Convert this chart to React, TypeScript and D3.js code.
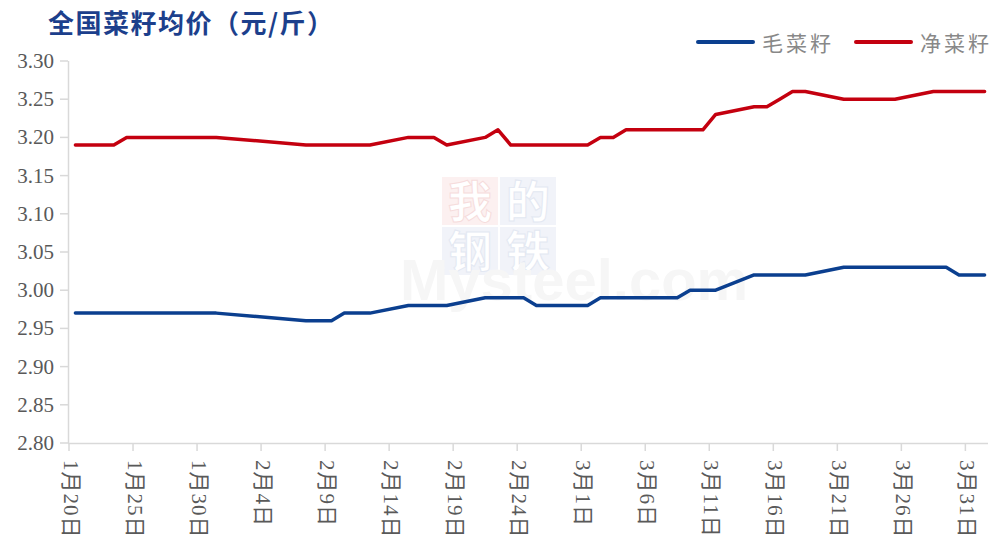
import React, { useEffect, useRef } from 'react';
import * as d3 from 'd3';

// trading dates (2022), shared by both series
const dates = [
  '2022-01-20', '2022-01-21', '2022-01-22', '2022-01-23', '2022-01-24', '2022-01-25',
  '2022-01-26', '2022-01-27', '2022-01-28', '2022-01-29', '2022-01-30', '2022-01-31',
  '2022-02-07', '2022-02-08', '2022-02-09', '2022-02-10', '2022-02-11', '2022-02-12',
  '2022-02-15', '2022-02-16', '2022-02-17', '2022-02-18',
  '2022-02-21', '2022-02-22', '2022-02-23', '2022-02-24', '2022-02-25', '2022-02-26',
  '2022-02-27', '2022-02-28', '2022-03-01', '2022-03-02', '2022-03-03', '2022-03-04',
  '2022-03-05', '2022-03-06', '2022-03-07', '2022-03-08', '2022-03-09', '2022-03-10',
  '2022-03-11', '2022-03-14', '2022-03-15', '2022-03-16', '2022-03-17', '2022-03-18',
  '2022-03-21', '2022-03-22', '2022-03-23', '2022-03-24', '2022-03-25',
  '2022-03-28', '2022-03-29', '2022-03-30', '2022-03-31', '2022-04-01',
];

// 毛菜籽
const rawSeed = [
  2.97, 2.97, 2.97, 2.97, 2.97, 2.97, 2.97, 2.97, 2.97, 2.97, 2.97, 2.97,
  2.96, 2.96, 2.96, 2.97, 2.97, 2.97,
  2.98, 2.98, 2.98, 2.98,
  2.99, 2.99, 2.99, 2.99, 2.98, 2.98, 2.98, 2.98, 2.98, 2.99, 2.99, 2.99,
  2.99, 2.99, 2.99, 2.99, 3.00, 3.00, 3.00,
  3.02, 3.02, 3.02, 3.02, 3.02,
  3.03, 3.03, 3.03, 3.03, 3.03,
  3.03, 3.03, 3.02, 3.02, 3.02,
];

// 净菜籽
const cleanSeed = [
  3.19, 3.19, 3.19, 3.19, 3.20, 3.20, 3.20, 3.20, 3.20, 3.20, 3.20, 3.20,
  3.19, 3.19, 3.19, 3.19, 3.19, 3.19,
  3.20, 3.20, 3.20, 3.19,
  3.20, 3.21, 3.19, 3.19, 3.19, 3.19, 3.19, 3.19, 3.19, 3.20, 3.20, 3.21,
  3.21, 3.21, 3.21, 3.21, 3.21, 3.21, 3.23,
  3.24, 3.24, 3.25, 3.26, 3.26,
  3.25, 3.25, 3.25, 3.25, 3.25,
  3.26, 3.26, 3.26, 3.26, 3.26,
];

const tickDates = [
  '2022-01-20', '2022-01-25', '2022-01-30', '2022-02-04', '2022-02-09',
  '2022-02-14', '2022-02-19', '2022-02-24', '2022-03-01', '2022-03-06',
  '2022-03-11', '2022-03-16', '2022-03-21', '2022-03-26', '2022-03-31',
];
const yTicks = [2.8, 2.85, 2.9, 2.95, 3.0, 3.05, 3.1, 3.15, 3.2, 3.25, 3.3];

const seriesNames = ['毛菜籽', '净菜籽'];
const seriesColors = ['#0b3f8f', '#c4000f'];

const W = 992;
const H = 543;
const parse = d3.timeParse('%Y-%m-%d');

export default function App() {
  const svgRef = useRef<SVGSVGElement>(null);

  useEffect(() => {
    const svg = d3.select(svgRef.current);
    svg.selectAll('*').remove();

    const x = d3.scaleTime()
      .domain([parse('2022-01-20') as Date, parse('2022-04-02') as Date])
      .range([69, 991]);
    const y = d3.scaleLinear().domain([2.8, 3.3]).range([443, 61]);
    // points sit in the middle of their day
    const px = (s: string) => x(d3.timeHour.offset(parse(s) as Date, 12));

    // watermark
    const wm = svg.append('g');
    const boxes = [
      { t: '我', bx: 442, by: 177, fill: '#fcf0f0', c: '#f6dcdc' },
      { t: '的', bx: 500, by: 177, fill: '#f1f3f9', c: '#e3e8f2' },
      { t: '钢', bx: 442, by: 227, fill: '#f1f3f9', c: '#e3e8f2' },
      { t: '铁', bx: 500, by: 227, fill: '#f1f3f9', c: '#e3e8f2' },
    ];
    boxes.forEach((b) => {
      wm.append('rect').attr('x', b.bx).attr('y', b.by).attr('width', 56).attr('height', 48).attr('fill', b.fill);
      wm.append('text').attr('x', b.bx + 28).attr('y', b.by + 41)
        .attr('text-anchor', 'middle')
        .style('font-family', '"Noto Sans CJK SC"')
        .style('font-size', '44px').style('font-weight', 700)
        .attr('fill', '#ffffff').attr('stroke', b.c).attr('stroke-width', 1)
        .text(b.t);
    });
    wm.append('text').attr('x', 400).attr('y', 300)
      .style('font-family', 'Arial, "Liberation Sans"')
      .style('font-size', '58px').style('font-weight', 700)
      .attr('fill', '#f6f6f6')
      .text('Mysteel.com');

    // y axis
    svg.append('line').attr('x1', 68.5).attr('x2', 68.5).attr('y1', 61).attr('y2', 443)
      .attr('stroke', '#d9d9d9').attr('stroke-width', 1.5);
    yTicks.forEach((v) => {
      svg.append('line').attr('x1', 60).attr('x2', 68).attr('y1', y(v)).attr('y2', y(v))
        .attr('stroke', '#d9d9d9').attr('stroke-width', 1.5);
      svg.append('text').attr('x', 54).attr('y', y(v))
        .attr('text-anchor', 'end').attr('dominant-baseline', 'central')
        .style('font-family', '"Liberation Serif", "Times New Roman", serif')
        .style('font-size', '21px').attr('fill', '#595959')
        .text(v.toFixed(2));
    });

    // x axis
    svg.append('line').attr('x1', 68).attr('x2', 988).attr('y1', 443.5).attr('y2', 443.5)
      .attr('stroke', '#d9d9d9').attr('stroke-width', 1.5);
    tickDates.forEach((s) => {
      const d = parse(s) as Date;
      const tx = x(d);
      svg.append('line').attr('x1', tx).attr('x2', tx).attr('y1', 443).attr('y2', 451)
        .attr('stroke', '#d9d9d9').attr('stroke-width', 1.5);
      svg.append('text')
        .attr('transform', `translate(${tx + 2},${460}) rotate(90)`)
        .attr('dominant-baseline', 'central')
        .style('font-family', '"Liberation Serif", "Noto Sans CJK SC", serif')
        .style('font-size', '21px').style('letter-spacing', '1px').attr('fill', '#595959')
        .text(`${d.getMonth() + 1}月${d.getDate()}日`);
    });

    // lines
    const line = d3.line<[string, number]>()
      .x((d) => px(d[0]))
      .y((d) => y(d[1]));
    [rawSeed, cleanSeed].forEach((vals, i) => {
      svg.append('path')
        .datum(dates.map((s, j) => [s, vals[j]] as [string, number]))
        .attr('d', line)
        .attr('fill', 'none')
        .attr('stroke', seriesColors[i])
        .attr('stroke-width', 3.5)
        .attr('stroke-linejoin', 'round')
        .attr('stroke-linecap', 'round');
    });

    // legend
    const legendX = [698, 856];
    seriesNames.forEach((name, i) => {
      svg.append('line').attr('x1', legendX[i]).attr('x2', legendX[i] + 55)
        .attr('y1', 42).attr('y2', 42)
        .attr('stroke', seriesColors[i]).attr('stroke-width', 4).attr('stroke-linecap', 'round');
      svg.append('text').attr('x', legendX[i] + 64).attr('y', 42)
        .attr('dominant-baseline', 'central')
        .style('font-family', '"Noto Sans CJK SC"')
        .style('font-size', '21px').style('letter-spacing', '3px').attr('fill', '#888888')
        .text(name);
    });

    // title
    svg.append('text').attr('x', 48).attr('y', 21)
      .attr('dominant-baseline', 'central')
      .style('font-family', '"Noto Sans CJK SC"')
      .style('font-size', '26px').style('font-weight', 700).style('letter-spacing', '1.5px')
      .attr('fill', '#1c3f8c')
      .text('全国菜籽均价（元/斤）');
  }, []);

  return (
    <svg ref={svgRef} width={W} height={H}
      style={{ position: 'absolute', left: 0, top: 0, background: '#fff' }} />
  );
}
